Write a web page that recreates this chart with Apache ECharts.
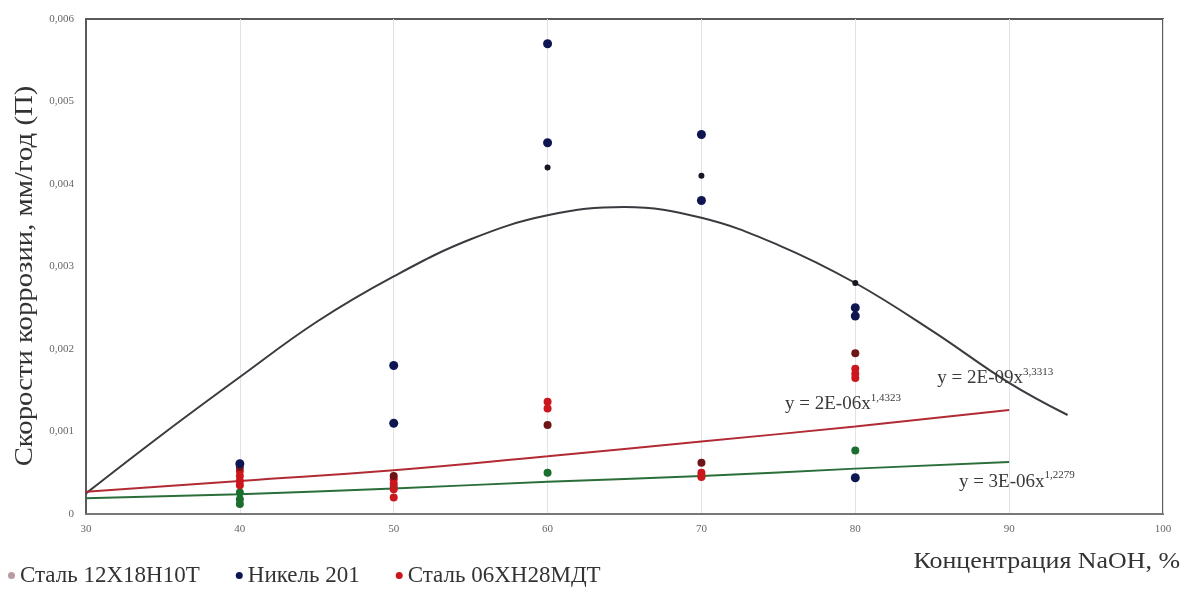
<!DOCTYPE html>
<html>
<head>
<meta charset="utf-8">
<script src="https://cdn.jsdelivr.net/npm/echarts@6/dist/echarts.min.js"></script>
<style>
html,body{margin:0;padding:0;background:#fff;}
#chart{width:1184px;height:593px;}
</style>
</head>
<body>
<div id="chart"></div>
<script>
// ---- data ----
const xTicks = [30, 40, 50, 60, 70, 80, 90, 100];
const yTicks = [0, 0.001, 0.002, 0.003, 0.004, 0.005, 0.006];
const seriesNames = ['Сталь 12Х18Н10Т', 'Никель 201', 'Сталь 06ХН28МДТ'];

// Никель 201 – measured points
const nickelX = [40, 50, 50, 60, 60, 70, 70, 80, 80, 80];
const nickelY = [0.00061, 0.0018, 0.0011, 0.0057, 0.0045, 0.0046, 0.0038, 0.0025, 0.0024, 0.00044];
const nickelSmallX = [60, 70, 80];
const nickelSmallY = [0.0042, 0.0041, 0.0028];

// Сталь 06ХН28МДТ – measured points
const redX = [40, 40, 40, 40, 50, 50, 50, 50, 60, 60, 70, 70, 80, 80, 80];
const redY = [0.00052, 0.00046, 0.0004, 0.00035, 0.00042, 0.00037, 0.0003, 0.0002, 0.00136, 0.00128, 0.0005, 0.00045, 0.00176, 0.0017, 0.00165];
const redDarkX = [40, 50, 60, 70, 80];
const redDarkY = [0.00057, 0.00046, 0.00108, 0.00062, 0.00195];

// Сталь 12Х18Н10Т – measured points
const greenX = [40, 40, 40, 50, 60, 70, 80];
const greenY = [0.00026, 0.00018, 0.00012, 0.00033, 0.0005, 0.00046, 0.00077];

// trend lines
const nickelTrendX = [30, 35, 40, 45, 50, 55, 60, 65, 70, 75, 80, 85, 90, 93.8];
const nickelTrendY = [0.00025, 0.00097, 0.00166, 0.00233, 0.00288, 0.00333, 0.00362, 0.00372, 0.00359, 0.00326, 0.0028, 0.00222, 0.00159, 0.0012];
const redTrendX = [30, 40, 50, 60, 70, 80, 90];
const redTrendY = [0.00027, 0.0004, 0.00053, 0.0007, 0.00088, 0.00106, 0.00126];
const greenTrendX = [30, 40, 50, 60, 70, 80, 90];
const greenTrendY = [0.00019, 0.00024, 0.00031, 0.00039, 0.00046, 0.00055, 0.00063];

const equations = [
  {base: 'y = 2E-09x', exp: '3,3313'},
  {base: 'y = 2E-06x', exp: '1,4323'},
  {base: 'y = 3E-06x', exp: '1,2279'}
];

const zip = (xs, ys) => xs.map((x, i) => [x, ys[i]]);

const FONT = '"Liberation Serif", "DejaVu Serif", serif';
const NAVY = '#0e1652';
const RED = '#cc161d';
const DARKRED = '#6e1518';
const GREEN = '#1c6e2e';

const eqRich = {
  b: {fontFamily: FONT, fontSize: 19, color: '#3a3a3a', padding: [7, 0, 0, 0]},
  s: {fontFamily: FONT, fontSize: 11, color: '#3a3a3a', padding: [0, 0, 5, 0]}
};
function eqLabel(e) { return '{b|' + e.base + '}{s|' + e.exp + '}'; }

const chart = echarts.init(document.getElementById('chart'));
chart.setOption({
  animation: false,
  backgroundColor: '#fff',
  textStyle: {fontFamily: FONT},
  grid: {left: 86, right: 21, top: 19, bottom: 79, show: true, borderColor: '#5a5a5a', borderWidth: 2, backgroundColor: 'transparent'},
  xAxis: {
    type: 'value', min: xTicks[0], max: xTicks[xTicks.length - 1], interval: 10,
    axisLine: {show: true, onZero: false, lineStyle: {color: '#777', width: 2}},
    axisTick: {show: false},
    axisLabel: {fontFamily: FONT, fontSize: 11, color: '#666', margin: 10},
    splitLine: {show: true, lineStyle: {color: '#e2e2e6', width: 1}}
  },
  yAxis: {
    type: 'value', min: yTicks[0], max: yTicks[yTicks.length - 1], interval: 0.001,
    axisLine: {show: true, lineStyle: {color: '#5a5a5a', width: 2}},
    axisTick: {show: false},
    axisLabel: {fontFamily: FONT, fontSize: 11, color: '#666', margin: 12,
      formatter: v => String(+v.toFixed(3)).replace('.', ',')},
    splitLine: {show: false}
  },
  legend: {
    left: 3, bottom: 1, icon: 'circle', itemWidth: 7, itemHeight: 7, itemGap: 36,
    textStyle: {fontFamily: FONT, fontSize: 23, color: '#333'},
    data: [
      {name: seriesNames[0], itemStyle: {color: '#b99ba0'}},
      {name: seriesNames[1], itemStyle: {color: NAVY}},
      {name: seriesNames[2], itemStyle: {color: RED}}
    ]
  },
  graphic: [
    {type: 'text', x: 1180, y: 562,
      style: {text: 'Концентрация NaOH, %', font: '24px ' + FONT, fill: '#333', align: 'right', verticalAlign: 'middle'},
      scaleX: 1.08},
    {type: 'text', x: 25, y: 276, rotation: Math.PI / 2,
      style: {text: 'Скорости коррозии, мм/год (П)', font: '25px ' + FONT, fill: '#333', align: 'center', verticalAlign: 'middle'},
      scaleX: 1.15}
  ],
  series: [
    {name: 'trend-nickel', type: 'line', data: zip(nickelTrendX, nickelTrendY), smooth: 0.4, symbol: 'none',
      lineStyle: {color: '#3a3a3f', width: 2}, z: 2,
      markPoint: {symbol: 'circle', symbolSize: 0, data: [{coord: [89.1, 0.00169], label: {show: true, formatter: eqLabel(equations[0]), rich: eqRich}}]}},
    {name: 'trend-red', type: 'line', data: zip(redTrendX, redTrendY), smooth: true, symbol: 'none',
      lineStyle: {color: '#b22a33', width: 2}, z: 2,
      markPoint: {symbol: 'circle', symbolSize: 0, data: [{coord: [79.2, 0.00137], label: {show: true, formatter: eqLabel(equations[1]), rich: eqRich}}]}},
    {name: 'trend-green', type: 'line', data: zip(greenTrendX, greenTrendY), smooth: true, symbol: 'none',
      lineStyle: {color: '#2a6e3a', width: 2}, z: 2,
      markPoint: {symbol: 'circle', symbolSize: 0, data: [{coord: [90.5, 0.000436], label: {show: true, formatter: eqLabel(equations[2]), rich: eqRich}}]}},
    {name: seriesNames[0], type: 'scatter', data: zip(greenX, greenY), symbolSize: 8, itemStyle: {color: GREEN, opacity: 1}, z: 3},
    {name: seriesNames[2], type: 'scatter', data: zip(redX, redY), symbolSize: 8, itemStyle: {color: RED, opacity: 1}, z: 4},
    {name: seriesNames[2], type: 'scatter', data: zip(redDarkX, redDarkY), symbolSize: 8, itemStyle: {color: DARKRED, opacity: 1}, z: 4},
    {name: seriesNames[1], type: 'scatter', data: zip(nickelX, nickelY), symbolSize: 9, itemStyle: {color: NAVY, opacity: 1}, z: 5},
    {name: seriesNames[1], type: 'scatter', data: zip(nickelSmallX, nickelSmallY), symbolSize: 6, itemStyle: {color: '#15161f', opacity: 1}, z: 5}
  ]
});
</script>
</body>
</html>
